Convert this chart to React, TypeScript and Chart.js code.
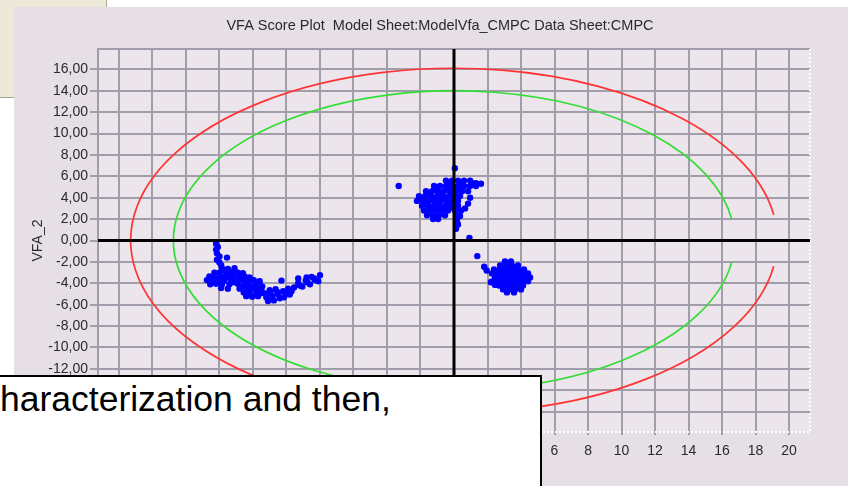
import React, { useEffect, useRef } from "react";
import { Chart, registerables } from "chart.js";

Chart.register(...registerables);

const chartTitle = "VFA Score Plot  Model Sheet:ModelVfa_CMPC Data Sheet:CMPC";
const yAxisTitle = "VFA_2";
const overlayText = "haracterization and then,";

const xTicks = [-20, -18, -16, -14, -12, -10, -8, -6, -4, -2, 0, 2, 4, 6, 8, 10, 12, 14, 16, 18, 20];
const yTicks = [-16, -14, -12, -10, -8, -6, -4, -2, 0, 2, 4, 6, 8, 10, 12, 14, 16];
const xRange = [-21.25, 21.25];
const yRange = [-17.9, 17.9];

// confidence ellipses: outer (red) and inner (green)
const ellipseRadiusX = [19.3, 16.75];
const ellipseRadiusY = [16.1, 14.0];
const ellipseGapY = [2.4, 2.0];
const ellipseColors = ["#ff3333", "#33dd33"];

const clusterLeft: [number, number][] = [
  [-14.2, -0.3], [-14.1, -0.6], [-14.2, -0.85], [-14.15, -1.2], [-14.0, -1.5], [-13.55, -1.6], [-14.15, -1.8], [-14.0, -2.05], [-13.9, -2.3],
  [-13.85, -2.6], [-13.5, -2.65], [-13.1, -2.6],
  [-14.3, -3.0], [-14.0, -3.0], [-13.6, -3.0], [-13.25, -2.95], [-12.9, -3.0], [-12.6, -3.05],
  [-14.6, -3.35], [-14.3, -3.4], [-13.9, -3.35], [-13.55, -3.4], [-13.2, -3.35], [-12.85, -3.4], [-12.5, -3.35], [-12.2, -3.45],
  [-14.75, -3.7], [-14.4, -3.75], [-14.0, -3.7], [-13.7, -3.75], [-13.3, -3.7], [-12.95, -3.75], [-12.6, -3.7], [-12.25, -3.75], [-11.95, -3.7],
  [-14.55, -4.1], [-14.2, -4.05], [-13.85, -4.1], [-13.4, -4.1], [-12.9, -4.05], [-12.5, -4.1], [-12.2, -4.15], [-11.8, -4.1],
  [-13.9, -4.45], [-13.5, -4.5], [-12.8, -4.5], [-12.35, -4.45], [-12.0, -4.5], [-11.65, -4.55],
  [-12.55, -4.85], [-12.2, -4.9], [-11.8, -4.85], [-11.45, -4.8],
  [-12.4, -5.2], [-12.05, -5.25], [-11.7, -5.2],
  [-11.6, -3.8], [-11.45, -4.3],
  [-11.3, -4.95], [-11.0, -4.65], [-10.65, -4.55], [-11.2, -5.3], [-10.85, -5.2], [-10.5, -5.05], [-11.1, -5.65], [-10.75, -5.6],
  [-10.2, -4.75], [-9.9, -4.5], [-10.15, -5.3], [-9.8, -5.05], [-10.4, -5.4],
  [-9.55, -4.4], [-9.3, -4.0], [-9.05, -4.3], [-8.85, -3.75], [-8.6, -4.1], [-8.35, -3.55], [-8.1, -3.8], [-8.5, -3.4], [-8.8, -3.45],
  [-8.0, -3.25], [-10.3, -3.75], [-9.3, -3.55],
  [-13.7, -2.8], [-13.3, -3.2], [-12.7, -3.55], [-13.1, -3.9], [-12.4, -3.9], [-11.9, -4.3], [-12.6, -4.3], [-11.6, -4.95],
  [-10.95, -4.95], [-10.55, -4.8], [-10.0, -5.0], [-9.7, -4.75], [-9.2, -4.2], [-8.75, -3.9], [-8.3, -3.7], [-14.05, -3.55],
];

const clusterTop: [number, number][] = [
  [-3.3, 5.1], [0.05, 6.75],
  [-0.48, 5.6], [-0.12, 5.6], [0.24, 5.6], [0.6, 5.6], [0.96, 5.6], [1.31, 5.35], [1.61, 5.3],
  [-1.19, 5.1], [-0.84, 5.1], [-0.48, 5.1], [-0.12, 5.1], [0.24, 5.1], [0.6, 5.1], [0.96, 5.1], [1.31, 5.1],
  [-1.67, 4.6], [-1.31, 4.6], [-0.96, 4.6], [-0.6, 4.6], [-0.24, 4.6], [0.12, 4.6], [0.48, 4.6], [0.84, 4.6],
  [-2.09, 4.15], [-1.73, 4.15], [-1.37, 4.15], [-1.01, 4.15], [-0.66, 4.15], [-0.3, 4.15], [0.06, 4.15], [0.36, 4.15],
  [-2.21, 3.7], [-1.85, 3.7], [-1.49, 3.7], [-1.13, 3.7], [-0.78, 3.7], [-0.42, 3.7], [-0.06, 3.7], [0.24, 3.7],
  [0.96, 4.0], [0.84, 3.45], [0.66, 3.0],
  [-1.91, 3.25], [-1.55, 3.25], [-1.19, 3.25], [-0.84, 3.25], [-0.48, 3.25], [-0.12, 3.25], [0.24, 3.25],
  [-1.79, 2.8], [-1.43, 2.8], [-1.07, 2.8], [-0.72, 2.8], [-0.36, 2.8], [0.06, 2.8], [0.42, 2.8],
  [-1.61, 2.35], [-1.25, 2.35], [-0.9, 2.35], [-0.54, 2.35], [0.18, 2.35],
  [-1.25, 2.0], [-0.95, 2.0],
  [0.18, 1.85], [0.24, 1.5], [0.12, 1.1], [0.36, 2.3],
  [-0.3, 5.35], [0.42, 5.35], [1.1, 5.35], [-1.0, 4.85], [-0.3, 4.85], [0.4, 4.85], [-1.5, 4.4], [-0.8, 4.4], [-0.1, 4.4],
  [-1.9, 3.95], [-1.2, 3.95], [-0.5, 3.95], [-1.7, 3.5], [-1.0, 3.5], [-0.3, 3.5], [-1.4, 3.05], [-0.7, 3.05], [-0.2, 3.05],
];

const clusterRight: [number, number][] = [
  [0.92, 0.25], [1.39, -1.46], [1.8, -2.45], [1.95, -2.8],
  [3.04, -1.96], [3.4, -1.96],
  [2.75, -2.33], [3.1, -2.33], [3.46, -2.33], [3.82, -2.33],
  [2.39, -2.71], [2.75, -2.71], [3.1, -2.71], [3.46, -2.71], [3.82, -2.71], [4.18, -2.71],
  [2.27, -3.08], [2.63, -3.08], [2.99, -3.08], [3.34, -3.08], [3.7, -3.08], [4.06, -3.08], [4.42, -3.08],
  [2.45, -3.45], [2.81, -3.45], [3.16, -3.45], [3.52, -3.45], [3.88, -3.45], [4.24, -3.45], [4.54, -3.45],
  [2.27, -3.82], [2.63, -3.82], [2.99, -3.82], [3.34, -3.82], [3.7, -3.82], [4.06, -3.82], [4.42, -3.82],
  [2.69, -4.2], [3.04, -4.2], [3.4, -4.2], [3.76, -4.2], [4.12, -4.2],
  [2.93, -4.57], [3.28, -4.57], [3.64, -4.57], [4.0, -4.57],
  [3.16, -4.85], [3.58, -4.85],
  [2.2, -3.9], [2.45, -4.15],
  [2.9, -2.5], [3.3, -2.5], [3.65, -2.5], [2.55, -2.9], [2.9, -2.9], [3.25, -2.9], [3.6, -2.9], [4.0, -2.9],
  [2.6, -3.3], [3.0, -3.3], [3.4, -3.3], [3.8, -3.3], [4.2, -3.3], [2.45, -3.65], [2.85, -3.65], [3.2, -3.65],
  [3.6, -3.65], [4.0, -3.65], [4.35, -3.65], [2.85, -4.0], [3.25, -4.0], [3.6, -4.0], [3.95, -4.0], [3.1, -4.4], [3.5, -4.4],
];

const FONT_FAMILY = '"Liberation Sans", Arial, sans-serif';
const GRID_COLOR = "#a09eaa";
const TEXT_COLOR = "#2a2a2a";
const POINT_COLOR = "#0000ff";

const decorPlugin = {
  id: "decor",
  beforeDraw(chart: any) {
    const { ctx, chartArea: a } = chart;
    ctx.save();
    ctx.fillStyle = "#ece5ec";
    ctx.fillRect(a.left, a.top, a.right - a.left, a.bottom - a.top);
    ctx.restore();
  },
  beforeDatasetsDraw(chart: any) {
    const { ctx, chartArea: a } = chart;
    const xs = chart.scales.x;
    const ys = chart.scales.y;
    ctx.save();
    ctx.strokeStyle = GRID_COLOR;
    ctx.lineWidth = 2;
    ctx.beginPath();
    ctx.moveTo(a.left, a.bottom);
    ctx.lineTo(a.left, a.top);
    ctx.lineTo(a.right, a.top);
    ctx.stroke();
    ctx.strokeStyle = "#ffffff";
    ctx.setLineDash([2, 2]);
    ctx.beginPath();
    ctx.moveTo(a.right, a.top);
    ctx.lineTo(a.right, a.bottom);
    ctx.lineTo(a.left, a.bottom);
    ctx.stroke();
    ctx.setLineDash([]);
    const cx = xs.getPixelForValue(0);
    const cy = ys.getPixelForValue(0);
    ellipseRadiusX.forEach((rxv, i) => {
      const rx = xs.getPixelForValue(rxv) - cx;
      const ry = cy - ys.getPixelForValue(ellipseRadiusY[i]);
      const g = Math.asin(ellipseGapY[i] / ellipseRadiusY[i]);
      ctx.strokeStyle = ellipseColors[i];
      ctx.lineWidth = 1.7;
      ctx.beginPath();
      ctx.ellipse(cx, cy, rx, ry, 0, g, 2 * Math.PI - g);
      ctx.stroke();
    });
    ctx.restore();
  },
  afterDatasetsDraw(chart: any) {
    const { ctx, chartArea: a } = chart;
    const cx = chart.scales.x.getPixelForValue(0);
    const cy = chart.scales.y.getPixelForValue(0);
    ctx.save();
    ctx.strokeStyle = "#000000";
    ctx.lineWidth = 3;
    ctx.beginPath();
    ctx.moveTo(a.left, cy);
    ctx.lineTo(a.right, cy);
    ctx.moveTo(cx, a.top);
    ctx.lineTo(cx, a.bottom);
    ctx.stroke();
    ctx.restore();
  },
  afterDraw(chart: any) {
    const { ctx } = chart;
    ctx.save();
    ctx.fillStyle = TEXT_COLOR;
    ctx.font = `14.5px ${FONT_FAMILY}`;
    ctx.textAlign = "center";
    ctx.textBaseline = "middle";
    ctx.fillText(chartTitle, 426, 18.5);
    ctx.restore();
  },
};

export default function App() {
  const canvasRef = useRef<HTMLCanvasElement | null>(null);

  useEffect(() => {
    document.body.style.margin = "0";
    const canvas = canvasRef.current;
    if (!canvas) return;
    const toPts = (arr: [number, number][]) => arr.map(([x, y]) => ({ x, y }));
    const pointStyle = {
      pointRadius: 3.2,
      pointHoverRadius: 3.2,
      pointBackgroundColor: POINT_COLOR,
      pointBorderWidth: 0,
      backgroundColor: POINT_COLOR,
      borderColor: POINT_COLOR,
      showLine: false,
    };
    const tickFont = { family: FONT_FAMILY, size: 14 };
    const chart = new Chart(canvas, {
      type: "scatter",
      data: {
        datasets: [
          { label: "left", data: toPts(clusterLeft), ...pointStyle },
          { label: "top", data: toPts(clusterTop), ...pointStyle },
          { label: "right", data: toPts(clusterRight), ...pointStyle },
        ],
      },
      options: {
        animation: false,
        responsive: false,
        devicePixelRatio: 1,
        layout: { padding: { top: 42, right: 38, left: 0, bottom: 0 } },
        plugins: {
          legend: { display: false },
          tooltip: { enabled: false },
          title: { display: false },
        },
        scales: {
          x: {
            type: "linear",
            min: xRange[0],
            max: xRange[1],
            afterBuildTicks: (s: any) => {
              s.ticks = xTicks.map((v) => ({ value: v }));
            },
            afterFit: (s: any) => {
              s.height = 54;
            },
            grid: { color: GRID_COLOR, lineWidth: 2, tickLength: 3, drawTicks: true },
            border: { display: false },
            ticks: {
              font: tickFont,
              color: TEXT_COLOR,
              padding: 8,
              maxRotation: 0,
              autoSkip: false,
              callback: (v: any) => String(v),
            },
          },
          y: {
            type: "linear",
            min: yRange[0],
            max: yRange[1],
            afterBuildTicks: (s: any) => {
              s.ticks = yTicks.map((v) => ({ value: v }));
            },
            afterFit: (s: any) => {
              s.width = 84;
            },
            grid: { color: GRID_COLOR, lineWidth: 2, tickLength: 8, drawTicks: true },
            border: { display: false },
            title: {
              display: true,
              text: yAxisTitle,
              color: TEXT_COLOR,
              font: { family: FONT_FAMILY, size: 14 },
              padding: { top: 16, bottom: 0 },
            },
            ticks: {
              font: tickFont,
              color: TEXT_COLOR,
              padding: 2,
              autoSkip: false,
              callback: (v: any) => Number(v).toFixed(2).replace(".", ","),
            },
          },
        },
      },
      plugins: [decorPlugin],
    });
    return () => chart.destroy();
  }, []);

  return (
    <div
      style={{
        position: "relative",
        width: 848,
        height: 486,
        overflow: "hidden",
        background: "#ffffff",
        fontFamily: FONT_FAMILY,
      }}
    >
      <div
        style={{
          position: "absolute",
          left: 0,
          top: 0,
          width: 106,
          height: 97,
          background: "#ece9d8",
          borderRight: "1px solid #a7a597",
          borderBottom: "1px solid #a7a597",
        }}
      />
      <div
        style={{
          position: "absolute",
          left: 14,
          top: 7,
          width: 834,
          height: 479,
          background: "#e6dfe6",
        }}
      >
        <canvas
          ref={canvasRef}
          width={834}
          height={479}
          style={{ display: "block", width: 834, height: 479 }}
        />
      </div>
      <div
        style={{
          position: "absolute",
          left: -10,
          top: 375,
          width: 552,
          height: 130,
          boxSizing: "border-box",
          background: "#ffffff",
          border: "2px solid #000000",
        }}
      >
        <div
          style={{
            position: "absolute",
            left: 8,
            top: 1,
            fontSize: 35.5,
            lineHeight: "42px",
            color: "#000000",
            whiteSpace: "nowrap",
            fontFamily: FONT_FAMILY,
          }}
        >
          {overlayText}
        </div>
      </div>
    </div>
  );
}
